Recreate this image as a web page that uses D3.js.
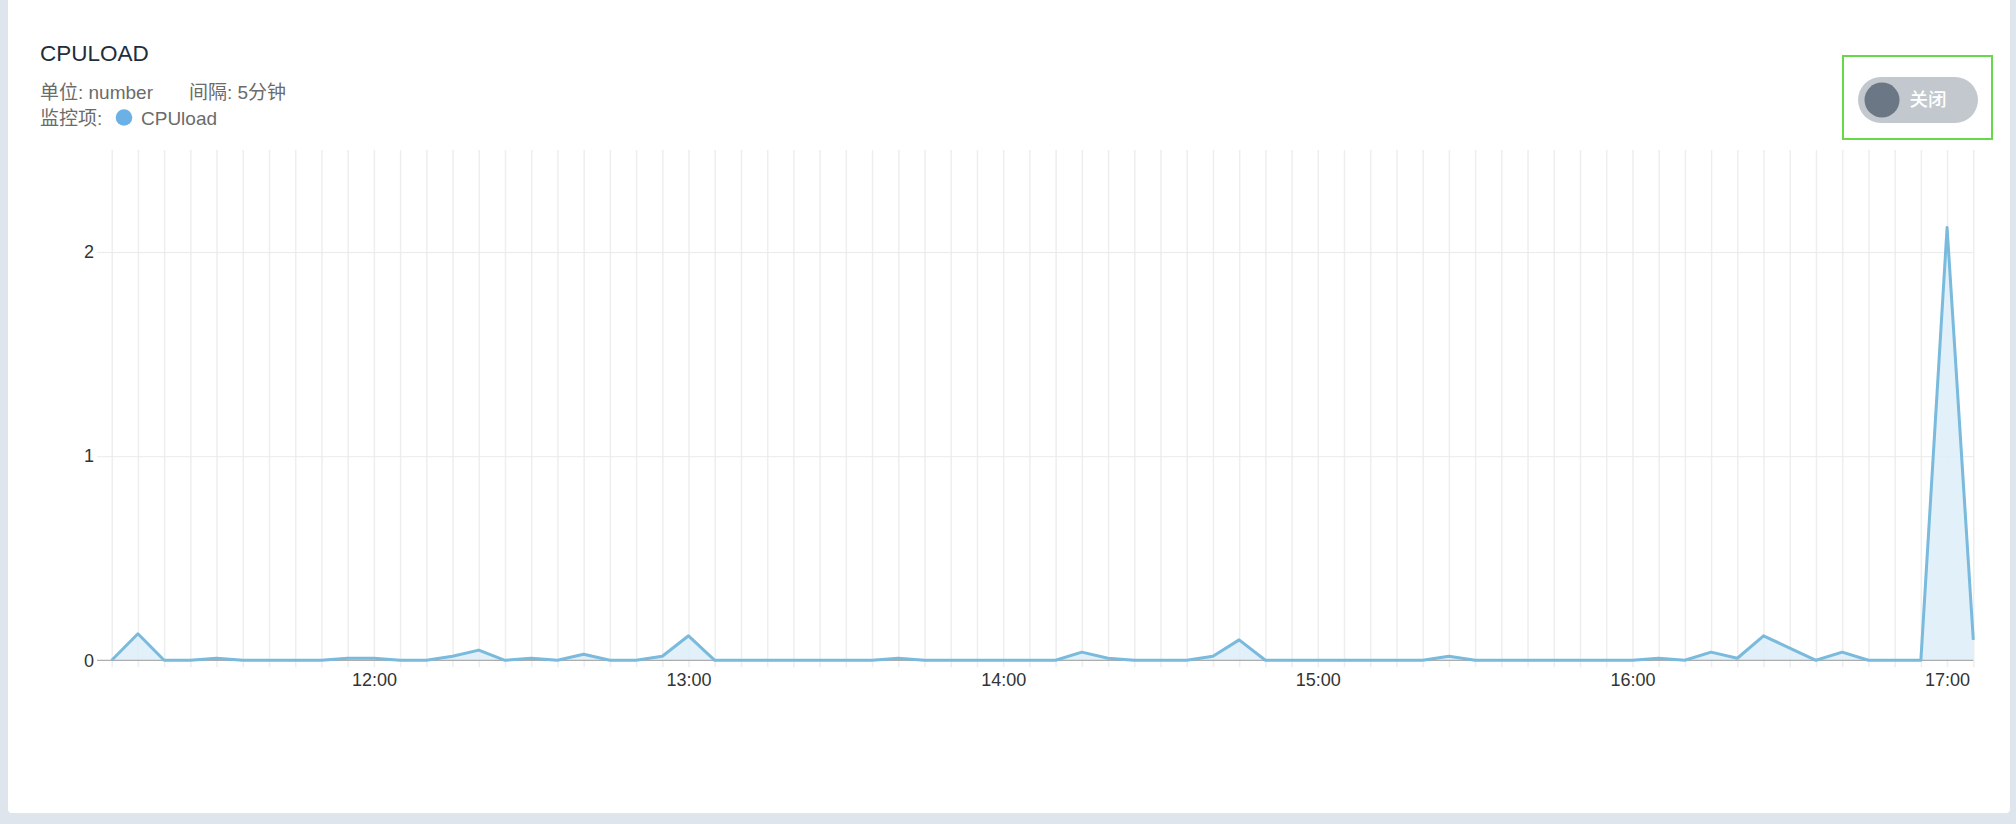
<!DOCTYPE html>
<html>
<head>
<meta charset="utf-8">
<script src="https://cdn.jsdelivr.net/npm/d3@7"></script>
<style>
  html, body { margin: 0; padding: 0; background: #dee5ec; }
  svg { display: block; }
  text { font-family: "Liberation Sans", Arial, "Noto Sans CJK SC", sans-serif; }
</style>
</head>
<body>
<svg id="chart" width="2016" height="824"></svg>
<script>
// ---- data ----
const title = "CPULOAD";
const unitLabel = "单位: number";
const intervalLabel = "间隔: 5分钟";
const legendPrefix = "监控项:";
const seriesName = "CPUload";
const toggleLabel = "关闭";

const times = [
  "11:10","11:15","11:20","11:25","11:30","11:35","11:40","11:45","11:50","11:55",
  "12:00","12:05","12:10","12:15","12:20","12:25","12:30","12:35","12:40","12:45","12:50","12:55",
  "13:00","13:05","13:10","13:15","13:20","13:25","13:30","13:35","13:40","13:45","13:50","13:55",
  "14:00","14:05","14:10","14:15","14:20","14:25","14:30","14:35","14:40","14:45","14:50","14:55",
  "15:00","15:05","15:10","15:15","15:20","15:25","15:30","15:35","15:40","15:45","15:50","15:55",
  "16:00","16:05","16:10","16:15","16:20","16:25","16:30","16:35","16:40","16:45","16:50","16:55",
  "17:00","17:05"
];
const cpuLoad = [
  0, 0.13, 0, 0, 0.01, 0, 0, 0, 0, 0.01,
  0.01, 0, 0, 0.02, 0.05, 0, 0.01, 0, 0.03, 0, 0, 0.02,
  0.12, 0, 0, 0, 0, 0, 0, 0, 0.01, 0, 0, 0,
  0, 0, 0, 0.04, 0.01, 0, 0, 0, 0.02, 0.10, 0, 0,
  0, 0, 0, 0, 0, 0.02, 0, 0, 0, 0, 0, 0,
  0, 0.01, 0, 0.04, 0.01, 0.12, 0.06, 0, 0.04, 0, 0, 0,
  2.12, 0.10
];
const xTickLabels = ["12:00","13:00","14:00","15:00","16:00","17:00"];
const yTicks = [0, 1, 2];
const yMax = 2.5;

// ---- layout ----
const svg = d3.select("#chart");
const plotL = 111.7, plotR = 1973.3, plotT = 150, plotB = 660.3;
const parse = d3.timeParse("%H:%M");
const fmt = d3.timeFormat("%H:%M");
const data = times.map((t, i) => ({ t: parse(t), v: cpuLoad[i] }));

const x = d3.scaleTime().domain([parse(times[0]), parse(times[times.length - 1])]).range([plotL, plotR]);
const y = d3.scaleLinear().domain([0, yMax]).range([plotB, plotT]);

// panel
svg.append("rect").attr("x", 8).attr("y", -6).attr("width", 2002).attr("height", 819)
  .attr("rx", 4).attr("fill", "#ffffff");

// header
svg.append("text").attr("x", 40).attr("y", 61).attr("font-size", 22.5).attr("fill", "#1f2d3d").text(title);
svg.append("text").attr("x", 40).attr("y", 99).attr("font-size", 19).attr("fill", "#6b6b6b").text(unitLabel);
svg.append("text").attr("x", 189).attr("y", 99).attr("font-size", 19).attr("fill", "#6b6b6b").text(intervalLabel);
svg.append("text").attr("x", 40).attr("y", 125).attr("font-size", 19).attr("fill", "#6b6b6b").text(legendPrefix);
svg.append("circle").attr("cx", 124).attr("cy", 117.5).attr("r", 8.3).attr("fill", "#6cb1e6");
svg.append("text").attr("x", 141).attr("y", 125).attr("font-size", 19).attr("fill", "#6b6b6b").text(seriesName);

// toggle
svg.append("rect").attr("x", 1843).attr("y", 56).attr("width", 149).attr("height", 83)
  .attr("fill", "none").attr("stroke", "#66d94a").attr("stroke-width", 2);
svg.append("rect").attr("x", 1858).attr("y", 77).attr("width", 120).attr("height", 46).attr("rx", 23)
  .attr("fill", "#c2c8cd");
svg.append("circle").attr("cx", 1882).attr("cy", 100).attr("r", 17.5).attr("fill", "#6b7784");
svg.append("text").attr("x", 1928).attr("y", 100).attr("dy", "0.35em").attr("text-anchor", "middle")
  .attr("font-size", 18.5).attr("font-weight", 500).attr("fill", "#ffffff").text(toggleLabel);

// vertical grid
const vgrid = svg.append("g").attr("transform", `translate(0,${plotB + 7})`)
  .call(d3.axisBottom(x).tickValues(data.map(d => d.t)).tickSize(-(plotB + 7 - plotT)).tickFormat(""));
vgrid.select(".domain").remove();
vgrid.selectAll("line").attr("stroke", "#eeeeee").attr("stroke-width", 1.5);

// horizontal grid + y labels
const ygrid = svg.append("g").attr("transform", `translate(97,0)`)
  .call(d3.axisLeft(y).tickValues(yTicks).tickSize(-(plotR - 97)).tickPadding(3).tickFormat(d3.format("d")));
ygrid.select(".domain").remove();
ygrid.selectAll("line").attr("stroke", d => d === 0 ? "none" : "#ebebeb").attr("stroke-width", 1);
ygrid.selectAll("text").attr("font-size", 18).attr("fill", "#333")
  .style("font-family", "'Liberation Sans', Arial, sans-serif");

// area
svg.append("path").datum(data)
  .attr("d", d3.area().x(d => x(d.t)).y0(y(0)).y1(d => y(d.v)))
  .attr("fill", "#dcedf8").attr("fill-opacity", 0.85);

// zero line
svg.append("line").attr("x1", 97).attr("x2", plotR).attr("y1", y(0)).attr("y2", y(0))
  .attr("stroke", "#9a9a9a").attr("stroke-width", 1);

// line
svg.append("path").datum(data)
  .attr("d", d3.line().x(d => x(d.t)).y(d => y(d.v)))
  .attr("fill", "none").attr("stroke", "#79badd").attr("stroke-width", 3).attr("stroke-linejoin", "round");

// x axis labels
const xaxis = svg.append("g").attr("transform", `translate(0,${plotB})`)
  .call(d3.axisBottom(x).tickValues(xTickLabels.map(parse)).tickSize(0).tickPadding(13).tickFormat(fmt));
xaxis.select(".domain").remove();
xaxis.selectAll("text").attr("font-size", 18).attr("fill", "#333")
  .style("font-family", "'Liberation Sans', Arial, sans-serif");
</script>
</body>
</html>
